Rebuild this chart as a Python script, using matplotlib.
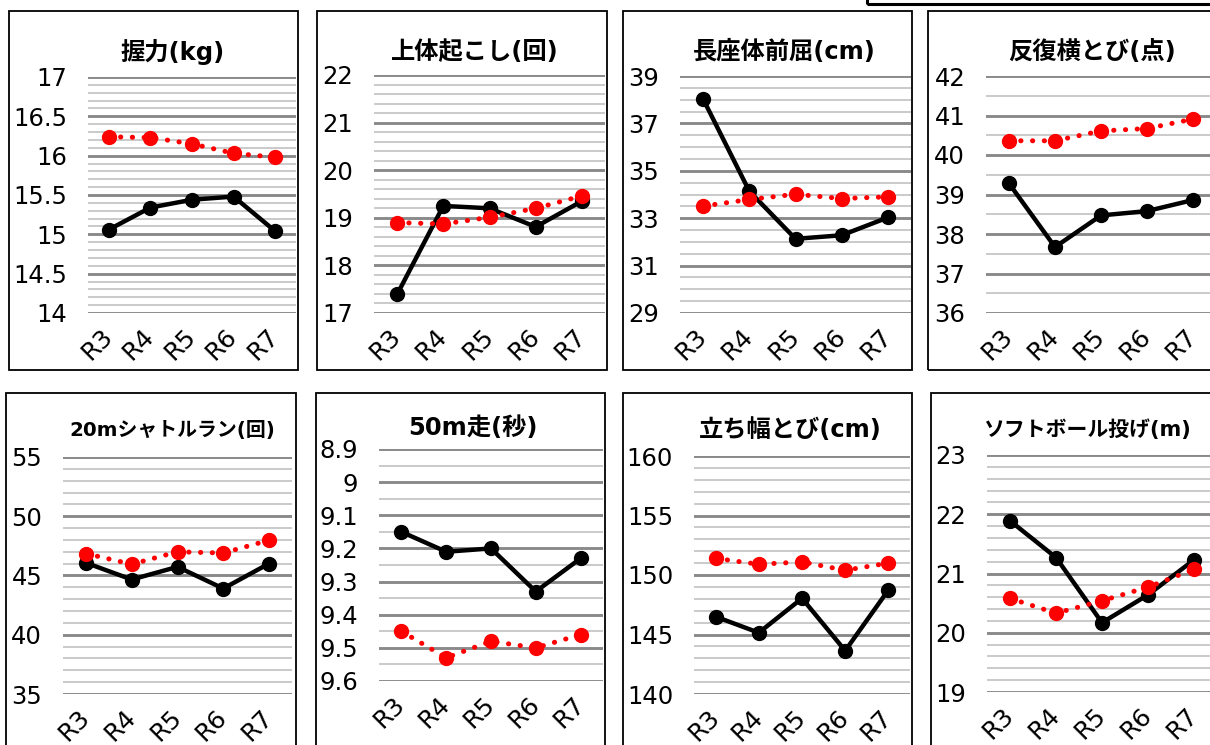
import numpy as np
import matplotlib
matplotlib.use('Agg')
from matplotlib import pyplot as plt
from matplotlib.patches import Rectangle

plt.rcParams['font.family'] = ['Noto Sans CJK JP', 'DejaVu Sans']

W, H = 1210, 745

years = ['R3', 'R4', 'R5', 'R6', 'R7']

# black = this school, red dotted = reference
grip_black = [15.06, 15.34, 15.44, 15.48, 15.04]
grip_red = [16.24, 16.23, 16.15, 16.03, 15.98]
situp_black = [17.39, 19.25, 19.20, 18.81, 19.35]
situp_red = [18.90, 18.87, 19.01, 19.20, 19.46]
sitreach_black = [38.03, 34.14, 32.13, 32.28, 33.03]
sitreach_red = [33.51, 33.79, 34.01, 33.83, 33.90]
sidestep_black = [39.28, 37.67, 38.47, 38.58, 38.86]
sidestep_red = [40.36, 40.36, 40.61, 40.67, 40.91]
shuttle_black = [46.07, 44.66, 45.73, 43.90, 46.01]
shuttle_red = [46.85, 45.95, 47.00, 46.90, 47.98]
dash_black = [9.15, 9.21, 9.20, 9.33, 9.23]
dash_red = [9.45, 9.53, 9.48, 9.50, 9.46]
jump_black = [146.5, 145.15, 148.04, 143.64, 148.74]
jump_red = [151.4, 150.9, 151.1, 150.4, 151.0]
throw_black = [21.89, 21.27, 20.17, 20.64, 21.23]
throw_red = [20.58, 20.33, 20.54, 20.77, 21.07]

titles = ['握力(kg)', '上体起こし(回)', '長座体前屈(cm)', '反復横とび(点)',
          '20mシャトルラン(回)', '50m走(秒)', '立ち幅とび(cm)', 'ソフトボール投げ(m)']
blacks = [grip_black, situp_black, sitreach_black, sidestep_black,
          shuttle_black, dash_black, jump_black, throw_black]
reds = [grip_red, situp_red, sitreach_red, sidestep_red,
        shuttle_red, dash_red, jump_red, throw_red]
ylims = [(14, 17), (17, 22), (29, 39), (36, 42), (35, 55), (8.9, 9.6), (140, 160), (19, 23)]
majors = [0.5, 1, 2, 1, 5, 0.1, 5, 1]
minors = [0.1, 0.2, 0.5, 0.5, 1, 0.05, 1, 0.2]

# layout in pixels (left, top, right, bottom)
axes_px = [(88, 77, 296, 313), (374, 75, 605, 313), (680, 76, 911, 313), (986, 76, 1216, 313),
           (63, 457, 292, 694), (379, 449, 603, 681), (694, 456, 910, 694), (987, 455, 1217, 692)]
box_px = [(9, 11, 298, 370), (317, 11, 607, 370), (623, 11, 912, 370), (928, 11, 1225, 370),
          (6, 393, 296, 760), (316, 393, 605, 760), (623, 393, 912, 760), (931, 393, 1225, 760)]
title_px = [(173, 52), (475, 52), (784, 52), (1092, 52),
            (172, 430), (473, 428), (790, 430), (1087, 430)]
title_size = [17.5, 17.5, 17.5, 17.5, 14.3, 17.5, 17.5, 15]


def frac(l, t, r, b):
    return [l / W, 1 - b / H, (r - l) / W, (b - t) / H]


fig = plt.figure(figsize=(W / 100, H / 100), dpi=100)

# legend box remnant at top right
fig.patches.append(Rectangle((867 / W, 1 - 4 / H), (1230 - 867) / W, 60 / H,
                             transform=fig.transFigure, fill=False, lw=2.2,
                             edgecolor='black', clip_on=False))

for i in range(8):
    l, t, r, b = box_px[i]
    fig.patches.append(Rectangle((l / W, 1 - b / H), (r - l) / W, (b - t) / H,
                                 transform=fig.transFigure, fill=False, lw=1.3,
                                 edgecolor='black'))
    ax = fig.add_axes(frac(*axes_px[i]))
    x = np.arange(len(years))
    lo, hi = ylims[i]
    ax.set_xlim(-0.5, len(years) - 0.5)
    ax.set_ylim(lo, hi)
    if i == 5:
        ax.invert_yaxis()
    ticks = np.round(np.arange(lo, hi + majors[i] / 2, majors[i]), 3)
    mticks = np.round(np.arange(lo, hi + minors[i] / 2, minors[i]), 3)
    ax.set_yticks(ticks)
    ax.set_yticks(mticks, minor=True)
    ax.set_yticklabels(['{:g}'.format(v) for v in ticks], family='DejaVu Sans')
    ax.grid(which='minor', axis='y', color='#c6c6c6', lw=1.3, zorder=0)
    ax.grid(which='major', axis='y', color='#8a8a8a', lw=2.1, zorder=0)
    ax.set_axisbelow(True)
    for s in ax.spines.values():
        s.set_visible(False)
    ax.tick_params(which='both', length=0)
    ax.tick_params(axis='y', pad=15, labelsize=17.5)
    ax.tick_params(axis='x', pad=14, labelsize=18)
    ax.set_xticks(x)
    ax.set_xticklabels(years, rotation=45, ha='right', va='center',
                       rotation_mode='anchor', family='DejaVu Sans')

    ax.plot(x, blacks[i], color='black', lw=3.2, marker='o', ms=10, zorder=3,
            solid_capstyle='round')
    ax.plot(x, reds[i], color='red', lw=3.6, linestyle=(0, (0.05, 2.3)),
            dash_capstyle='round', zorder=4)
    ax.plot(x, reds[i], color='red', lw=0, marker='o', ms=10, zorder=5)

    tx, ty = title_px[i]
    fig.text(tx / W, 1 - ty / H, titles[i], ha='center', va='center',
             fontsize=title_size[i], fontweight='bold',
             family=['DejaVu Sans', 'Noto Sans CJK JP'])

fig.savefig('out.png', dpi=100)
